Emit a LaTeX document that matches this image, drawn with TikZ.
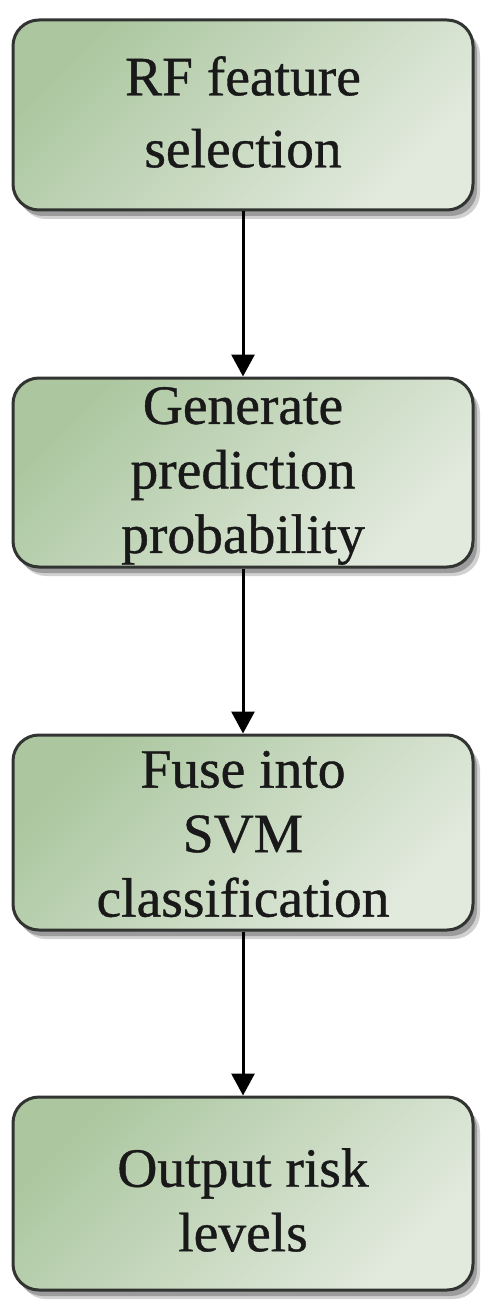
\documentclass[tikz,border=0pt]{standalone}
\usepackage{fontspec}
\setmainfont{Liberation Serif}
\newfontfamily\heavyserif[FakeBold=0.7]{Liberation Serif}
\usetikzlibrary{arrows.meta,shadows}
\definecolor{gA}{RGB}{172,199,160}
\definecolor{gB}{RGB}{226,234,222}
\definecolor{edgeC}{RGB}{50,52,50}
\tikzset{
  stepbox/.style={draw=edgeC, line width=3pt, rounded corners=26pt,
    top color=gA, bottom color=gB, shading angle=45,
    minimum width=460pt, inner sep=0pt,
    drop shadow={opacity=0.18, shadow xshift=7pt, shadow yshift=-9pt, fill=black},
    drop shadow={opacity=0.25, shadow xshift=4pt, shadow yshift=-6pt, fill=black}},
  boxtext/.style={align=center, inner sep=0pt, text=black!90,
    font=\heavyserif\fontsize{55.5pt}{64.5pt}\selectfont},
  flow/.style={line width=3pt, -{Triangle[length=22pt,width=23pt]}},
}
\begin{document}
\begin{tikzpicture}[x=1pt,y=1pt]
\useasboundingbox[fill=white] (0,0) rectangle (492,-1313);
\node[stepbox, minimum height=190pt] (b1) at (243,-115) {};
\node[stepbox, minimum height=189pt] (b2) at (243,-472.5) {};
\node[stepbox, minimum height=195pt] (b3) at (243,-832.5) {};
\node[stepbox, minimum height=193pt] (b4) at (243,-1193.5) {};
\node[boxtext, font=\heavyserif\fontsize{55.5pt}{72pt}\selectfont] (t1) at (243,-112) {RF feature\\selection};
\node[boxtext] (t2) at (243,-476) {Generate\\prediction\\probability};
\node[boxtext] (t3) at (243,-834) {Fuse into\\SVM\\classification};
\node[boxtext] (t4) at (243,-1200) {Output risk\\levels};
\draw[flow] (b1.south) -- (b2.north);
\draw[flow] (b2.south) -- (b3.north);
\draw[flow] (b3.south) -- (b4.north);
\end{tikzpicture}
\end{document}
